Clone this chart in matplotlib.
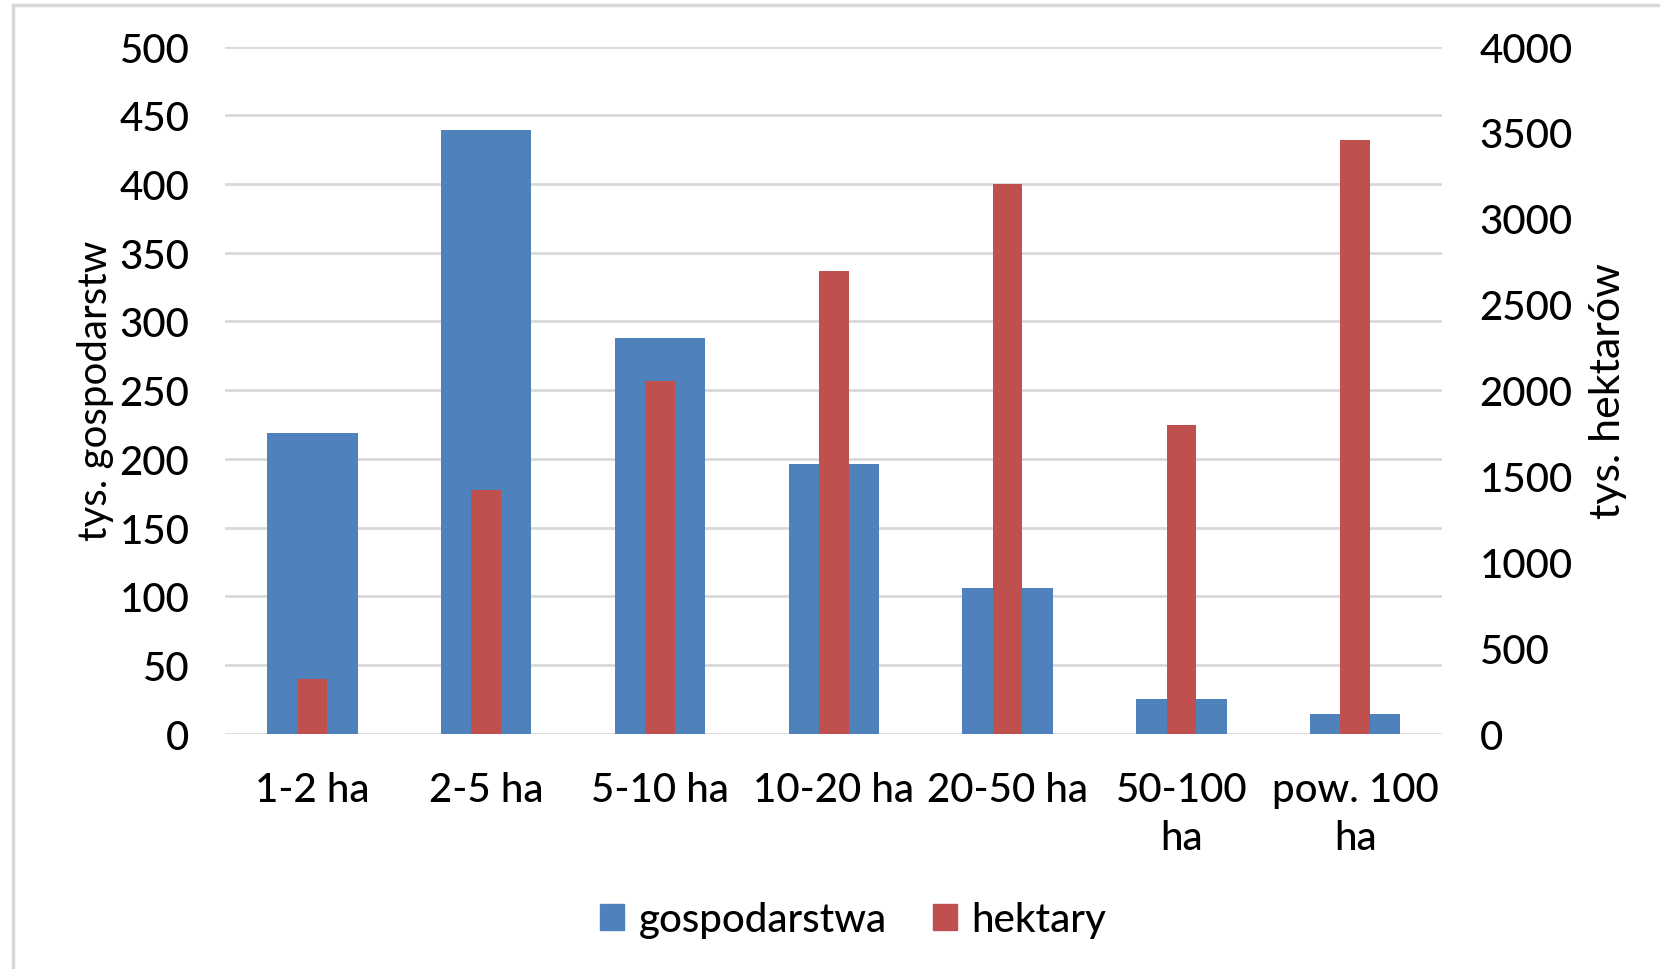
import matplotlib
matplotlib.use('Agg')
import matplotlib.pyplot as plt
from matplotlib.patches import Rectangle, Patch
import numpy as np

categories = ['1-2 ha', '2-5 ha', '5-10 ha', '10-20 ha', '20-50 ha', '50-100\nha', 'pow. 100\nha']
gospodarstwa = [219, 439, 288, 196, 106, 25, 14]
hektary = [320, 1418, 2052, 2693, 3199, 1794, 3458]

BLUE = '#4F81BD'
RED = '#C0504D'
GRID = '#D9D9D9'
FS = 29

plt.rcParams['font.family'] = ['Lato', 'DejaVu Sans']
plt.rcParams['font.weight'] = 'medium'

fig = plt.figure(figsize=(16.6, 9.7), dpi=100)
fig.patches.append(Rectangle((0.0078, -0.05), 1.2, 0.9943 + 0.05, transform=fig.transFigure,
                             fill=False, edgecolor='#D9D9D9', linewidth=2.5))
ax1 = fig.add_axes([0.1358, 0.2426, 0.8687 - 0.1358, 0.951 - 0.2426])
x = np.arange(len(categories))

ax1.bar(x, gospodarstwa, width=0.52, color=BLUE, zorder=2)
ax1.set_ylim(0, 500)
ax1.set_yticks(np.arange(0, 501, 50))
ax1.set_xlim(-0.5, len(categories) - 0.5)
ax1.grid(axis='y', color=GRID, linewidth=2.0, zorder=0)
ax1.set_axisbelow(True)
ax1.set_xticks(x)
ax1.set_xticklabels(categories, fontsize=FS, linespacing=1.35)
ax1.tick_params(axis='x', length=0, pad=27)
ax1.tick_params(axis='y', length=0, pad=26, labelsize=FS)
ax1.set_ylabel('tys. gospodarstw', fontsize=FS, labelpad=4)
for s in ax1.spines.values():
    s.set_visible(False)

ax2 = ax1.twinx()
ax2.bar(x, hektary, width=0.17, color=RED, zorder=3)
ax2.set_ylim(0, 4000)
ax2.set_yticks(np.arange(0, 4001, 500))
ax2.tick_params(axis='y', length=0, pad=27, labelsize=FS)
ax2.set_ylabel('tys. hektarów', fontsize=FS + 2, labelpad=12)
for s in ax2.spines.values():
    s.set_visible(False)

handles = [Patch(color=BLUE, label='gospodarstwa'), Patch(color=RED, label='hektary')]
fig.legend(handles=handles, loc='center', bbox_to_anchor=(0.514, 0.051), ncol=2,
           frameon=False, fontsize=FS, handlelength=0.6, handleheight=0.6,
           handletextpad=0.35, columnspacing=1.15)

fig.savefig('out.png', dpi=100)
